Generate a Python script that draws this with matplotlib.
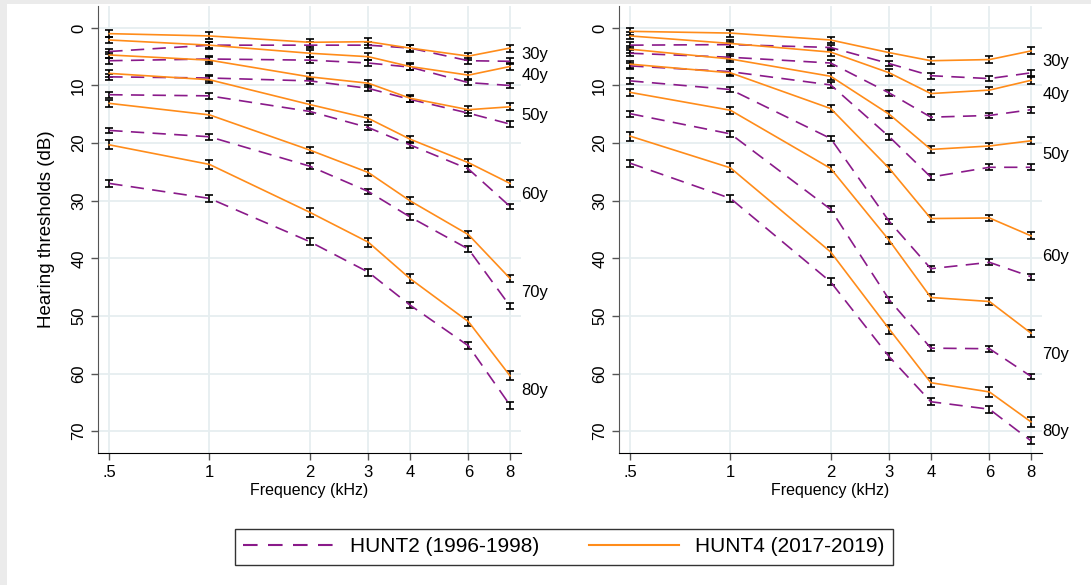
import numpy as np
import matplotlib
matplotlib.use("Agg")
import matplotlib.pyplot as plt
from matplotlib.lines import Line2D
from matplotlib.patches import Rectangle

plt.rcParams['font.family'] = ['Liberation Sans', 'DejaVu Sans']

# === DATA ===
freqs = [0.5, 1, 2, 3, 4, 6, 8]
freq_labels = [".5", "1", "2", "3", "4", "6", "8"]
ages = ["30y", "40y", "50y", "60y", "70y", "80y"]

# left panel, one row per age group
hunt2_left = [
    [4.1, 3.0, 3.0, 3.0, 3.5, 5.7, 5.8],
    [5.7, 5.4, 5.6, 6.1, 6.8, 9.5, 10.0],
    [8.5, 8.7, 9.2, 10.5, 12.4, 14.8, 16.7],
    [11.6, 11.8, 14.5, 17.3, 20.3, 24.5, 31.0],
    [17.8, 18.9, 24.0, 28.4, 32.8, 38.4, 48.3],
    [27.0, 29.6, 37.1, 42.4, 48.1, 55.2, 65.5],
]
hunt4_left = [
    [1.0, 1.4, 2.5, 2.4, 3.5, 4.9, 3.5],
    [2.1, 3.0, 4.4, 5.0, 6.7, 8.2, 6.7],
    [4.7, 5.6, 8.5, 9.6, 12.2, 14.2, 13.7],
    [7.9, 9.0, 13.3, 15.7, 19.3, 23.4, 27.0],
    [13.1, 15.1, 21.2, 25.1, 30.0, 35.9, 43.5],
    [20.3, 23.7, 32.0, 37.2, 43.5, 51.0, 60.4],
]

# right panel
hunt2_right = [
    [3.0, 2.9, 3.4, 6.2, 8.3, 8.8, 7.8],
    [4.4, 5.1, 6.1, 11.3, 15.5, 15.2, 14.2],
    [6.6, 7.6, 9.9, 18.9, 25.9, 24.2, 24.2],
    [9.2, 10.7, 19.2, 33.6, 41.8, 40.7, 43.2],
    [14.9, 18.4, 31.5, 47.2, 55.6, 55.7, 60.5],
    [23.5, 29.6, 44.1, 57.1, 64.9, 66.2, 71.7],
]
hunt4_right = [
    [0.6, 0.9, 2.1, 4.3, 5.7, 5.5, 4.0],
    [1.4, 2.7, 4.2, 7.8, 11.4, 10.8, 9.1],
    [3.7, 5.4, 8.4, 15.0, 21.1, 20.5, 19.6],
    [6.3, 7.8, 14.0, 24.4, 33.1, 33.0, 36.1],
    [11.2, 14.3, 24.4, 36.9, 46.8, 47.5, 53.0],
    [18.8, 24.3, 38.9, 52.3, 61.6, 63.2, 68.4],
]

# 95% CI half widths per age group
ci_hunt2 = [0.5, 0.5, 0.5, 0.5, 0.5, 0.6]
ci_hunt4 = [0.6, 0.6, 0.6, 0.6, 0.6, 0.8]

PURPLE = "#8a1a8a"
ORANGE = "#ff8c1a"
GRID = "#e6eef0"

fig = plt.figure(figsize=(10.91, 5.85), dpi=100, facecolor="#ebebeb")
fig.patches.append(Rectangle((7 / 1091, 0), 1, 1 - 4 / 585, transform=fig.transFigure,
                             facecolor="white", edgecolor="none", zorder=-10))

ax_l = fig.add_axes([98 / 1091, 1 - 453 / 585, 423 / 1091, 447 / 585])
ax_r = fig.add_axes([619 / 1091, 1 - 453 / 585, 423 / 1091, 447 / 585])


def draw_panel(ax, h2, h4):
    for i, age in enumerate(ages):
        ax.errorbar(freqs, h2[i], yerr=ci_hunt2[i], color=PURPLE, ecolor="black",
                    lw=1.2, dashes=(8, 5), elinewidth=1.2, capsize=3, capthick=1.2)
        ax.errorbar(freqs, h4[i], yerr=ci_hunt4[i], color=ORANGE, ecolor="black",
                    lw=1.2, elinewidth=1.2, capsize=3, capthick=1.2)
        # age label sits between the two end points
        mid = (h2[i][-1] + h4[i][-1]) / 2
        ax.annotate(age, (freqs[-1], mid), xytext=(8, 0), textcoords="offset points",
                    va="center", ha="left", fontsize=12, annotation_clip=False)

    ax.set_xscale("log")
    ax.set_xlim(0.4625, 8.63)
    ax.set_ylim(73.8, -3.8)
    ax.set_xticks(freqs)
    ax.set_xticklabels(freq_labels)
    ax.minorticks_off()
    ax.set_yticks(range(0, 71, 10))
    for lbl in ax.get_yticklabels():
        lbl.set_rotation(90)
        lbl.set_va("center")
    ax.tick_params(labelsize=12, length=5, width=1, color="#555555", direction="out")
    ax.grid(True, color=GRID, lw=1.3)
    ax.set_axisbelow(True)
    ax.spines["top"].set_visible(False)
    ax.spines["right"].set_visible(False)
    ax.spines["left"].set_color("#555555")
    ax.spines["bottom"].set_color("black")
    ax.set_xlabel("Frequency (kHz)", fontsize=11.5, labelpad=2)


draw_panel(ax_l, hunt2_left, hunt4_left)
draw_panel(ax_r, hunt2_right, hunt4_right)
ax_l.set_ylabel("Hearing thresholds (dB)", fontsize=13.5, labelpad=12)

handles = [Line2D([], [], color=PURPLE, lw=1.5, dashes=(7, 5)),
           Line2D([], [], color=ORANGE, lw=1.5)]
leg = fig.legend(handles, ["HUNT2 (1996-1998)", "HUNT4 (2017-2019)"], loc="center",
                 bbox_to_anchor=(564 / 1091, 1 - 547 / 585), ncol=2, fontsize=15,
                 frameon=True, fancybox=False, handlelength=4.3, columnspacing=2.4,
                 borderpad=0.4)
leg.get_frame().set_edgecolor("black")
leg.get_frame().set_linewidth(1)

fig.savefig("out.png", dpi=100, facecolor=fig.get_facecolor())
